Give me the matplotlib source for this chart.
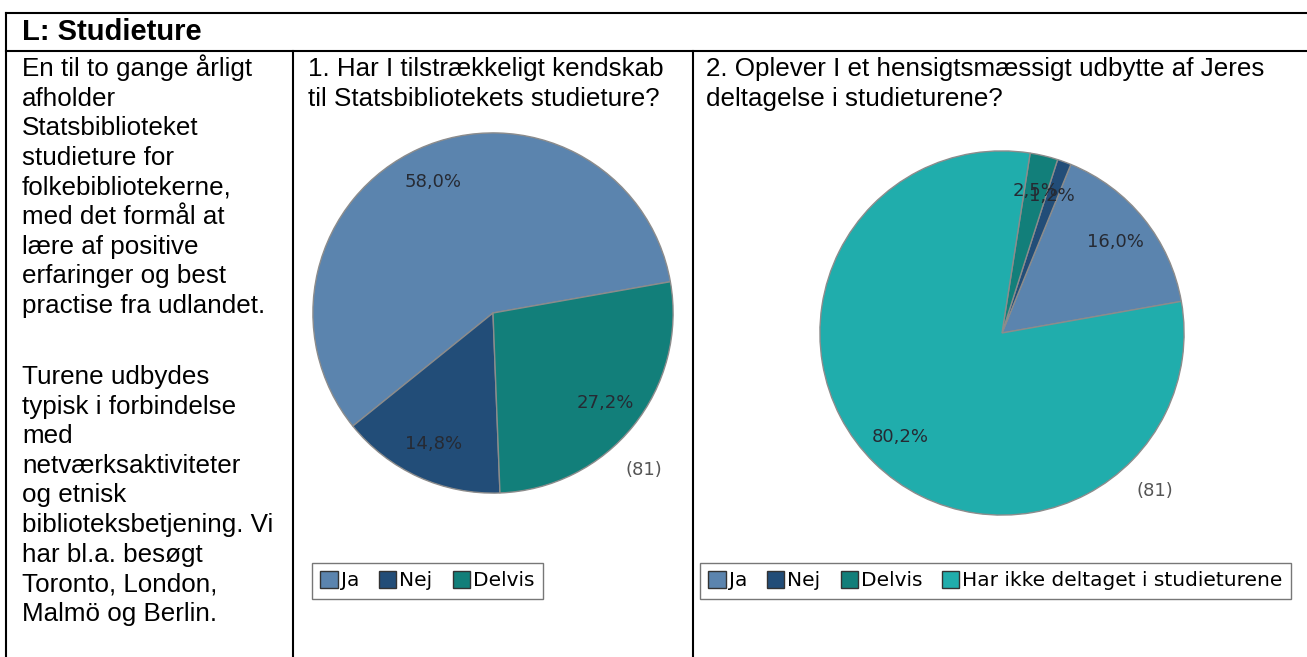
import matplotlib
matplotlib.use('Agg')
import matplotlib.pyplot as plt
from matplotlib.lines import Line2D
from matplotlib.patches import Patch

# data (antal svar, n = 81)
q1_labels = ['Ja', 'Nej', 'Delvis']
q1_counts = [47, 12, 22]
q2_labels = ['Ja', 'Nej', 'Delvis', 'Har ikke deltaget i studieturene']
q2_counts = [13, 1, 2, 65]
n_total = '(81)'

colors = ['#5b84ae', '#224d78', '#127f7a', '#20adac']

header = 'L: Studieture'
para1 = ['En til to gange årligt', 'afholder', 'Statsbiblioteket', 'studieture for',
         'folkebibliotekerne,', 'med det formål at', 'lære af positive',
         'erfaringer og best', 'practise fra udlandet.']
para2 = ['Turene udbydes', 'typisk i forbindelse', 'med', 'netværksaktiviteter',
         'og etnisk', 'biblioteksbetjening. Vi', 'har bl.a. besøgt',
         'Toronto, London,', 'Malmö og Berlin.']
q1_title = ['1. Har I tilstrækkeligt kendskab', 'til Statsbibliotekets studieture?']
q2_title = ['2. Oplever I et hensigtsmæssigt udbytte af Jeres', 'deltagelse i studieturene?']

W, H = 1307, 657
fig = plt.figure(figsize=(W / 100, H / 100), dpi=100)
fig.patch.set_facecolor('white')


def fx(x):
    return x / W


def fy(y):
    return 1 - y / H


def line(x0, y0, x1, y1):
    fig.add_artist(Line2D([fx(x0), fx(x1)], [fy(y0), fy(y1)], color='black', lw=1.5,
                          solid_capstyle='projecting'))


# table grid
line(6, 13, W + 5, 13)
line(6, 51, W + 5, 51)
line(6, 13, 6, H + 5)
line(293, 51, 293, H + 5)
line(693, 51, 693, H + 5)

body_font = dict(family='Liberation Sans', size=18.7, color='black')
fig.text(fx(22), fy(40), header, fontsize=21, fontweight='bold', family='Liberation Sans',
         va='baseline')

step = 29.6
for i, s in enumerate(para1):
    fig.text(fx(22), fy(76 + i * step), s, va='baseline', **body_font)
for i, s in enumerate(para2):
    fig.text(fx(22), fy(384 + i * step), s, va='baseline', **body_font)
for i, s in enumerate(q1_title):
    fig.text(fx(308), fy(76 + i * step), s, va='baseline', **body_font)
for i, s in enumerate(q2_title):
    fig.text(fx(706), fy(76 + i * step), s, va='baseline', **body_font)


def pct(p):
    return ('%.1f%%' % p).replace('.', ',')


def draw_pie(cx, cy, r, counts, cols):
    ax = fig.add_axes([fx(cx - r), fy(cy + r), 2 * r / W, 2 * r / H])
    wedges, texts, autotexts = ax.pie(counts, colors=cols, startangle=10, counterclock=True,
                                      autopct=pct, pctdistance=0.8,
                                      wedgeprops=dict(edgecolor='#8c8c8c', linewidth=1.0),
                                      textprops=dict(family='DejaVu Sans', fontsize=13,
                                                     color='#262a33'))
    ax.set_xlim(-1.005, 1.005)
    ax.set_ylim(-1.005, 1.005)
    ax.text(0.84, -0.87, n_total, ha='center', va='center', fontsize=13,
            family='DejaVu Sans', color='#555555')
    ax.axis('off')
    return ax


draw_pie(493, 313, 181, q1_counts, colors[:3])
draw_pie(1002, 333, 183, q2_counts, colors)


def legend(x, y, labels, cols):
    handles = [Patch(facecolor=c, edgecolor='#333333', linewidth=1.0) for c in cols]
    leg = fig.legend(handles, labels, loc='upper left', bbox_to_anchor=(fx(x), fy(y)),
                     ncol=len(labels), frameon=True, fancybox=False, borderaxespad=0,
                     handlelength=0.85, handleheight=0.85, handletextpad=0.15,
                     columnspacing=1.0, borderpad=0.42,
                     prop=dict(family='DejaVu Sans', size=14.5))
    frame = leg.get_frame()
    frame.set_edgecolor('#555555')
    frame.set_linewidth(1.0)
    return leg


legend(312, 563, q1_labels, colors[:3])
legend(700, 563, q2_labels, colors)

fig.savefig('out.png', dpi=100)
